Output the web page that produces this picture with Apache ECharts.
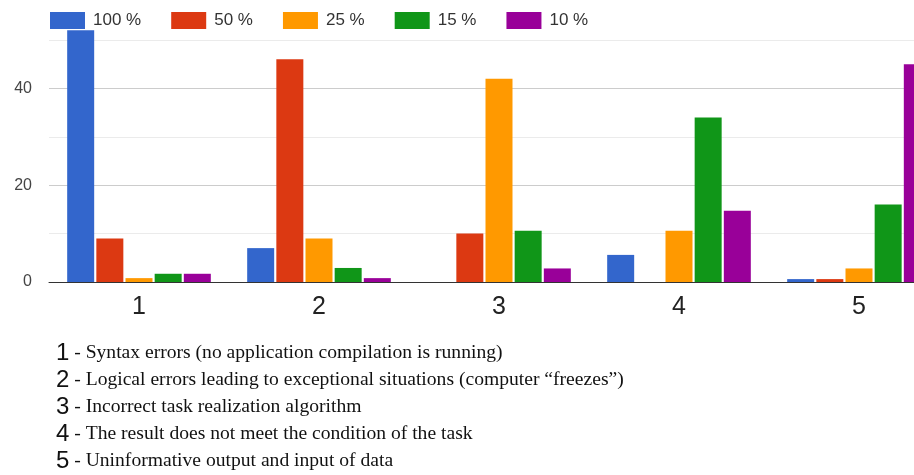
<!DOCTYPE html>
<html>
<head>
<meta charset="utf-8">
<script src="https://cdn.jsdelivr.net/npm/echarts@6/dist/echarts.min.js"></script>
<style>
  html, body { margin: 0; padding: 0; background: #fff; overflow: hidden; }
  /* the source picture is cropped on the right, so the chart is a bit wider than the window */
  #chart { width: 970px; height: 475px; }
</style>
</head>
<body>
<div id="chart"></div>
<script>
const categories = ['1', '2', '3', '4', '5']
const seriesNames = ['100 %', '50 %', '25 %', '15 %', '10 %']
const values100 = [52, 7, 0, 5.6, 0.6]
const values50 = [9, 46, 10, 0, 0.6]
const values25 = [0.8, 9, 42, 10.6, 2.8]
const values15 = [1.7, 2.9, 10.6, 34, 16]
const values10 = [1.7, 0.8, 2.8, 14.7, 45]
const yTickLabels = [0, 20, 40]
const descriptions = [
  'Syntax errors (no application compilation is running)',
  'Logical errors leading to exceptional situations (computer \u201cfreezes\u201d)',
  'Incorrect task realization algorithm',
  'The result does not meet the condition of the task',
  'Uninformative output and input of data',
]

const colors = ['#3366cc', '#dc3912', '#ff9900', '#109618', '#990099']
const allValues = [values100, values50, values25, values15, values10]

const chart = echarts.init(document.getElementById('chart'), null, { renderer: 'canvas' })

function buildOption() {
  return {
    animation: false,
    color: colors,
    legend: {
      left: 50,
      top: 12,
      padding: 0,
      itemWidth: 35,
      itemHeight: 17,
      itemGap: 30,
      icon: 'rect',
      textStyle: { fontFamily: 'Liberation Sans, Arial', fontSize: 17, color: '#333', padding: [0, 0, 0, 3] },
      data: seriesNames,
    },
    grid: { left: 49, right: 21, top: 40, bottom: 193, containLabel: false },
    xAxis: {
      type: 'category',
      data: categories,
      axisTick: { show: false },
      axisLine: { lineStyle: { color: '#333', width: 1 } },
      axisLabel: { fontFamily: 'Liberation Sans, Arial', fontSize: 25, color: '#222', margin: 13 },
    },
    yAxis: {
      type: 'value',
      min: 0,
      max: 50,
      interval: 10,
      axisLine: { show: false },
      axisTick: { show: false },
      axisLabel: {
        fontFamily: 'Liberation Sans, Arial',
        fontSize: 16,
        color: '#444',
        margin: 17,
        formatter: v => (yTickLabels.includes(v) ? String(v) : ''),
      },
      splitLine: { lineStyle: { color: ['#cccccc', '#ebebeb'], width: 1 } },
    },
    series: seriesNames.map((name, i) => ({
      name,
      type: 'bar',
      data: allValues[i],
      barWidth: 27,
      barGap: '8%',
      clip: false,
      itemStyle: { color: colors[i] },
    })),
    graphic: descriptions.map((d, i) => ({
      type: 'text',
      left: 56,
      top: 341 + i * 27,
      style: {
        text: `{n|${categories[i]}}{t| - ${d}}`,
        rich: {
          n: { fontFamily: 'Liberation Sans, Arial', fontSize: 24, fill: '#111', lineHeight: 27 },
          t: { fontFamily: 'Liberation Serif, Times New Roman', fontSize: 19.6, fill: '#111', lineHeight: 27 },
        },
      },
    })),
  }
}

chart.setOption(buildOption())
</script>
</body>
</html>
